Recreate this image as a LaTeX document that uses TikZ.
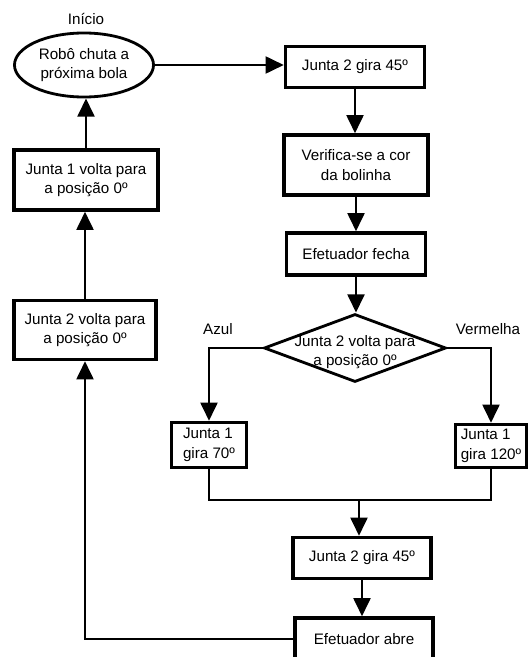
\documentclass[tikz,border=0pt]{standalone}
\usepackage{fontspec}
\setmainfont{Liberation Sans}
\usetikzlibrary{shapes.geometric, arrows.meta}

\begin{document}
\begin{tikzpicture}[x=0.025cm, y=-0.025cm,
        texto/.style={align=center, inner sep=0pt, font=\fontsize{10.8}{14}\selectfont},
        caixa/.style={texto, draw, line width=2.4pt},
        seta/.style={line width=2pt, -{Triangle[width=12pt, length=13pt]}},
        linha/.style={line width=2pt}]
    \useasboundingbox (0,0) rectangle (530,657);

    % início e coluna da esquerda
    \node[texto] (inicio_lbl) at (86,19) {Início};
    \node[texto, draw, ellipse, line width=2pt, minimum width=3.475cm, minimum height=1.6cm] (inicio) at (84,65) {Robô chuta a\\próxima bola};
    \node[caixa, minimum width=3.6cm, minimum height=1.5cm] (volta1) at (86,180) {Junta 1 volta para\\a posição 0º};
    \node[caixa, minimum width=3.55cm, minimum height=1.475cm] (volta2) at (85,330) {Junta 2 volta para\\a posição 0º};

    % coluna da direita
    \node[caixa, minimum width=3.475cm, minimum height=1.025cm] (gira1) at (355,67) {Junta 2 gira 45º};
    \node[caixa, minimum width=3.6cm, minimum height=1.5cm] (verifica) at (356,165) {Verifica-se a cor\\da bolinha};
    \node[caixa, minimum width=3.475cm, minimum height=1.05cm] (fecha) at (356,254) {Efetuador fecha};

    % decisão
    \node[draw, diamond, line width=2pt, inner sep=0pt, minimum width=4.55cm, minimum height=1.7cm] (decide) at (355,348) {};
    \node[texto] (decide_txt) at (355,352) {Junta 2 volta para\\a posição 0º};
    \node[texto] (azul) at (218,329) {Azul};
    \node[texto] (vermelha) at (488,329) {Vermelha};

    \node[caixa, align=left, minimum width=1.875cm, minimum height=1.125cm] (j70) at (209,445) {Junta 1\\gira 70º};
    \node[caixa, align=left, minimum width=1.775cm, minimum height=1.075cm] (j120) at (491,446) {Junta 1\\gira 120º};
    \coordinate (junta) at (359,500);

    \node[caixa, minimum width=3.45cm, minimum height=1.025cm] (gira2) at (362,558) {Junta 2 gira 45º};
    \node[caixa, minimum width=3.45cm, minimum height=1.05cm] (abre) at (364,639) {Efetuador abre};

    % ligações
    \draw[seta] (inicio.east) -- (inicio.east -| gira1.west);
    \draw[seta] (gira1.south) -- (gira1.south |- verifica.north);
    \draw[seta] (verifica.south) -- (verifica.south |- fecha.north);
    \draw[seta] (fecha.south) -- (fecha.south |- decide.north);
    \draw[seta] (decide.west) -| (j70.north);
    \draw[seta] (decide.east) -| (j120.north);
    \draw[linha] (j70.south) |- (junta) -| (j120.south);
    \draw[seta] (junta) -- (junta |- gira2.north);
    \draw[seta] (gira2.south) -- (gira2.south |- abre.north);
    \draw[seta] (abre.west) -| (volta2.south);
    \draw[seta] (volta2.north) -- (volta2.north |- volta1.south);
    \draw[seta] (volta1.north) -- (volta1.north |- inicio.south);

\end{tikzpicture}
\end{document}
